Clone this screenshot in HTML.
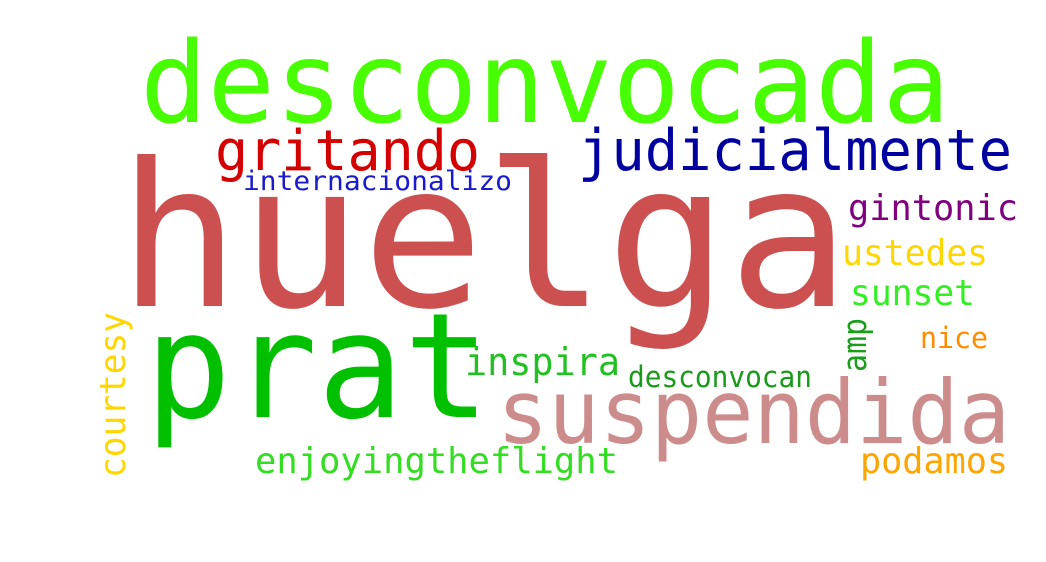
<!DOCTYPE html>
<html><head><meta charset="utf-8"><style>
html,body{margin:0;padding:0;background:#fff;}
svg{display:block;}
text{font-family:"DejaVu Sans Mono","Liberation Mono",monospace;}
</style></head><body>
<svg width="1046" height="562" viewBox="0 0 1046 562">
<rect width="1046" height="562" fill="#fff"/>
<text x="140" y="122" font-size="112" fill="#47ff00" textLength="810" lengthAdjust="spacingAndGlyphs">desconvocada</text>
<text x="118" y="306" font-size="200" fill="#cd5050" textLength="732" lengthAdjust="spacingAndGlyphs">huelga</text>
<text x="145" y="417" font-size="146" fill="#00c000" textLength="345" lengthAdjust="spacingAndGlyphs">prat</text>
<text x="215" y="170" font-size="56" fill="#d40000" textLength="265" lengthAdjust="spacingAndGlyphs">gritando</text>
<text x="578" y="170" font-size="57" fill="#0000a0" textLength="434" lengthAdjust="spacingAndGlyphs">judicialmente</text>
<text x="243" y="190" font-size="27" fill="#1a1acc" textLength="269" lengthAdjust="spacingAndGlyphs">internacionalizo</text>
<text x="848" y="220" font-size="36" fill="#800080" textLength="170" lengthAdjust="spacingAndGlyphs">gintonic</text>
<text x="842" y="265" font-size="36" fill="#ffd700" textLength="146" lengthAdjust="spacingAndGlyphs">ustedes</text>
<text x="850" y="305" font-size="36" fill="#33ee22" textLength="125" lengthAdjust="spacingAndGlyphs">sunset</text>
<text transform="translate(866,372) rotate(-90)" font-size="33" fill="#1a9e1a" textLength="54" lengthAdjust="spacingAndGlyphs">amp</text>
<text x="920" y="348" font-size="29" fill="#ff8c00" textLength="68" lengthAdjust="spacingAndGlyphs">nice</text>
<text x="465" y="375" font-size="38" fill="#22c022" textLength="155" lengthAdjust="spacingAndGlyphs">inspira</text>
<text x="628" y="387" font-size="29" fill="#1a9a1a" textLength="184" lengthAdjust="spacingAndGlyphs">desconvocan</text>
<text x="497" y="443" font-size="88" fill="#cd8c8c" textLength="513" lengthAdjust="spacingAndGlyphs">suspendida</text>
<text transform="translate(125,478) rotate(-90)" font-size="36" fill="#ffd700" textLength="166" lengthAdjust="spacingAndGlyphs">courtesy</text>
<text x="255" y="473" font-size="36" fill="#33dd22" textLength="363" lengthAdjust="spacingAndGlyphs">enjoyingtheflight</text>
<text x="860" y="473" font-size="36" fill="#ffa500" textLength="148" lengthAdjust="spacingAndGlyphs">podamos</text>
</svg>
</body></html>
